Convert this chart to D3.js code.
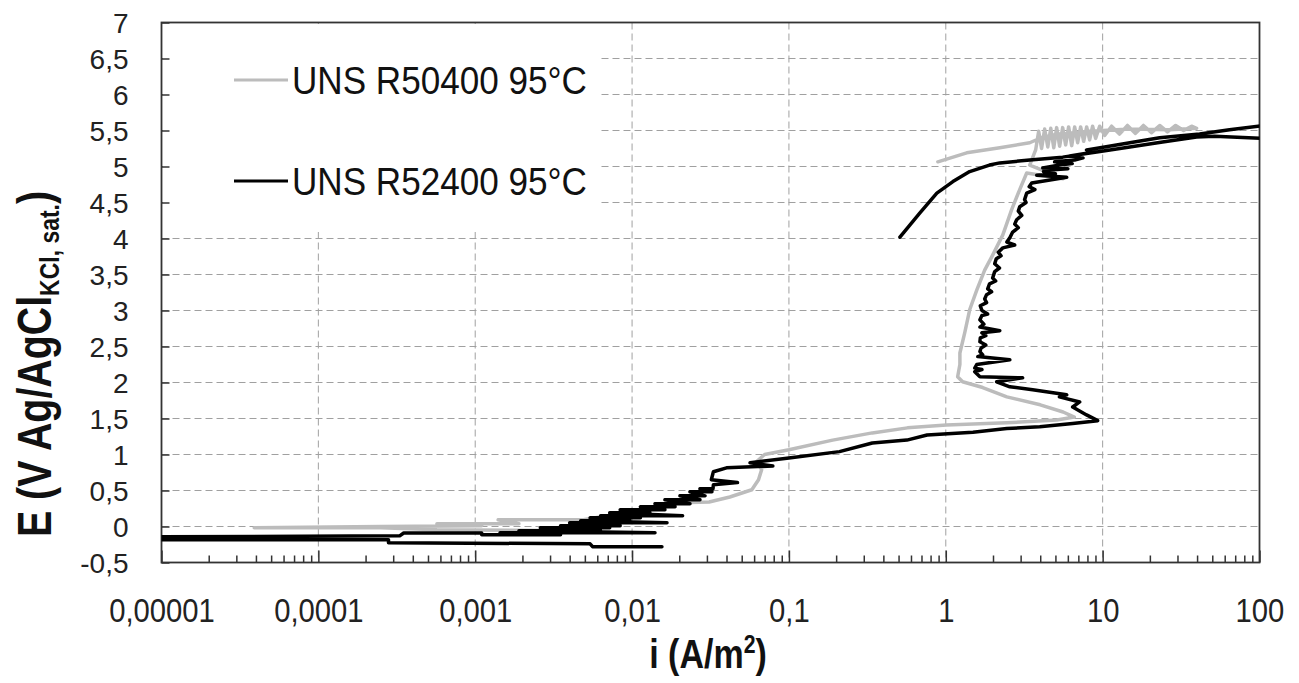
<!DOCTYPE html>
<html><head><meta charset="utf-8">
<script src="https://cdn.jsdelivr.net/npm/d3@7"></script>
<style>body{margin:0;background:#fff}</style>
</head><body><svg id="c" width="1299" height="683"></svg>
<script>
const seriesNames = ["UNS R50400 95°C", "UNS R52400 95°C"];
const xTickValues = [0.00001, 0.0001, 0.001, 0.01, 0.1, 1, 10, 100];
const xTickLabels = ["0,00001", "0,0001", "0,001", "0,01", "0,1", "1", "10", "100"];
const yTickValues = [-0.5, 0, 0.5, 1, 1.5, 2, 2.5, 3, 3.5, 4, 4.5, 5, 5.5, 6, 6.5, 7];
const yTickLabels = ["-0,5", "0", "0,5", "1", "1,5", "2", "2,5", "3", "3,5", "4", "4,5", "5", "5,5", "6", "6,5", "7"];

// UNS R50400 (grey): current density i (A/m2)
const r50400_i = [0.0063, 0.00057, 0.00025, 0.000039, 0.00025, 0.0011, 0.00057, 0.0019, 0.0014, 0.0049,
  0.0097, 0.020, 0.031, 0.042, 0.058, 0.064, 0.067, 0.062, 0.070, 0.10,
  0.19, 0.34, 0.57, 1.01, 2.45, 5.1, 6.6, 5.6, 4.0, 2.45,
  1.72, 1.28, 1.19, 1.23, 1.23, 1.32, 1.42, 1.58, 1.77, 1.99,
  2.31, 2.63, 2.96, 3.28, 5.6, 3.43,
  3.74, 3.91, 4.08, 4.27, 4.47, 4.67, 4.88, 5.09, 5.32, 5.56,
  5.81, 6.07, 6.35, 6.63, 6.93, 7.24, 7.57, 7.91, 8.26, 8.63,
  9.02, 9.57, 10.3, 11.4, 12.8, 14.4, 16.2, 18.2, 20.5, 23.1,
  25.9, 29.2, 32.8, 36.9, 39.7,
  26.7, 14.9, 8.26, 5.32, 4.15, 3.43, 2.21, 1.36, 0.89];
// UNS R50400 (grey): potential E (V)
const r50400_E = [-0.06, -0.046, -0.018, -0.018, 0.0, 0.01, 0.037, 0.037, 0.093, 0.093,
  0.20, 0.33, 0.34, 0.41, 0.51, 0.65, 0.79, 0.90, 1.0, 1.065,
  1.20, 1.30, 1.37, 1.41, 1.44, 1.48, 1.52, 1.59, 1.69, 1.80,
  1.93, 2.01, 2.08, 2.25, 2.41, 2.69, 3.01, 3.29, 3.56, 3.77,
  4.05, 4.40, 4.68, 4.91, 4.83, 5.02,
  5.23, 5.49, 5.25, 5.52, 5.27, 5.53, 5.26, 5.54, 5.28, 5.54,
  5.30, 5.55, 5.29, 5.55, 5.33, 5.55, 5.35, 5.55, 5.37, 5.56,
  5.39, 5.56, 5.43, 5.56, 5.45, 5.57, 5.46, 5.57, 5.47, 5.57,
  5.48, 5.57, 5.50, 5.56, 5.53,
  5.51, 5.52, 5.49, 5.45, 5.41, 5.33, 5.26, 5.19, 5.065];

// UNS R52400 (black): current density i (A/m2)
const r52400_i = [0.0155, 0.0056, 0.0054, 0.00028, 0.00028, 0.000009, 0.000009, 0.00033, 0.00035, 0.0011,
  0.0011, 0.0035, 0.00144, 0.014, 0.0019, 0.0063, 0.0026, 0.0072, 0.0035, 0.0084,
  0.0040, 0.0167, 0.0047, 0.0097, 0.0054, 0.0113, 0.0063, 0.021, 0.0072, 0.013,
  0.0084, 0.0162, 0.0113, 0.0188, 0.014, 0.0234, 0.0162, 0.0271, 0.0202, 0.0292,
  0.0234, 0.0323, 0.0271, 0.0328,
  0.033, 0.047, 0.032, 0.033, 0.040, 0.079, 0.0565,
  0.10, 0.21, 0.34, 0.565, 0.76, 1.49, 2.45, 3.97, 6.44, 9.3,
  7.9, 6.44, 7.14, 5.3, 5.9, 3.58, 2.56, 2.11, 3.09,
  1.65, 1.53, 1.70, 1.53, 1.575, 2.56, 1.60, 1.72, 1.65, 1.68,
  1.80, 1.65, 1.66, 1.80, 1.70, 2.21, 1.65, 1.75, 1.65, 1.70,
  1.85, 1.70, 1.66, 1.82, 1.77, 1.82, 1.96, 1.85, 1.90, 2.08,
  1.99, 2.05, 2.20, 2.05, 2.10, 2.25, 2.16, 2.31, 2.75, 2.45,
  2.56, 2.67, 2.9, 2.75, 2.83, 3.05, 2.9, 2.96, 3.25, 3.18,
  3.28, 3.7, 3.4, 3.53, 5.9,
  3.80, 5.0, 4.2, 4.59, 6.0, 4.15, 5.32, 6.4, 4.94, 6.63,
  7.5, 6.17, 8.26, 7.9, 10.3,
  14.9, 23.1, 41.5, 64.4, 108, 108, 51.7, 39.7, 24.1, 14.9,
  9.16, 5.56, 3.43, 2.21, 1.90, 1.42, 1.11, 0.877, 0.68, 0.51];
// UNS R52400 (black): potential E (V)
const r52400_E = [-0.28, -0.28, -0.24, -0.226, -0.185, -0.185, -0.143, -0.13, -0.09, -0.09,
  -0.115, -0.115, -0.0875, -0.0875, -0.06, -0.06, -0.018, -0.018, 0.01, 0.01,
  0.051, 0.051, 0.079, 0.079, 0.121, 0.121, 0.149, 0.149, 0.19, 0.19,
  0.232, 0.232, 0.274, 0.274, 0.315, 0.315, 0.371, 0.371, 0.426, 0.426,
  0.482, 0.482, 0.524, 0.524,
  0.58, 0.61, 0.65, 0.76, 0.815, 0.84, 0.885,
  0.95, 1.04, 1.16, 1.20, 1.27, 1.31, 1.36, 1.385, 1.43, 1.47,
  1.55, 1.66, 1.73, 1.80, 1.83, 1.90, 1.94, 2.01, 2.065,
  2.08, 2.15, 2.18, 2.20, 2.25, 2.315, 2.36, 2.385, 2.43, 2.48,
  2.52, 2.565, 2.62, 2.65, 2.69, 2.72, 2.77, 2.81, 2.87, 2.93,
  2.95, 3.0, 3.065, 3.11, 3.16, 3.22, 3.26, 3.30, 3.37, 3.41,
  3.45, 3.54, 3.59, 3.65, 3.72, 3.76, 3.81, 3.87, 3.91, 3.95,
  4.01, 4.09, 4.15, 4.20, 4.26, 4.32, 4.38, 4.44, 4.50, 4.54,
  4.63, 4.68, 4.72, 4.77, 4.85,
  4.88, 4.90, 4.93, 4.95, 4.97, 4.98, 5.02, 5.04, 5.065, 5.09,
  5.12, 5.145, 5.19, 5.23, 5.27,
  5.33, 5.40, 5.45, 5.51, 5.57, 5.39, 5.42, 5.41, 5.34, 5.27,
  5.20, 5.13, 5.09, 5.05, 5.02, 4.93, 4.79, 4.63, 4.35, 4.02];

const seriesColors = ["#bcbcbc", "#000000"];

const FONT = "'Liberation Sans', Arial, sans-serif";
const svg = d3.select("#c");
svg.append("rect").attr("width", 1299).attr("height", 683).attr("fill", "#fff");

const x = d3.scaleLog().domain([1e-5, 100]).range([161.5, 1259.5]);
const y = d3.scaleLinear().domain([-0.5, 7]).range([562.5, 22.5]);

// grid
const grid = svg.append("g").attr("stroke", "#a0a0a0").attr("stroke-width", 1).attr("stroke-dasharray", "7,4").attr("fill", "none");
grid.selectAll("line.h").data(yTickValues.filter(v => v > -0.5 && v < 7)).enter().append("line")
  .attr("x1", x(1e-5)).attr("x2", x(100)).attr("y1", d => y(d)).attr("y2", d => y(d));
grid.selectAll("line.v").data(xTickValues.filter(v => v > 1e-5 && v < 100)).enter().append("line")
  .attr("y1", y(7)).attr("y2", y(-0.5)).attr("x1", d => x(d)).attr("x2", d => x(d));

// legend background
svg.append("rect").attr("x", 163).attr("y", 24).attr("width", 437).attr("height", 208).attr("fill", "#fff");

// axes
const yAxis = d3.axisLeft(y).tickValues(yTickValues).tickSize(-8).tickPadding(33)
  .tickFormat((d, k) => yTickLabels[k]);
const gy = svg.append("g").attr("transform", `translate(${x(1e-5)},0)`).call(yAxis);
gy.select(".domain").remove();
gy.selectAll(".tick line").attr("stroke", "#333").attr("stroke-width", 1.5);
gy.selectAll(".tick text").attr("font-family", FONT).attr("font-size", 28).attr("fill", "#222").attr("dy", "0.36em");

const xAxis = d3.axisBottom(x).tickValues(xTickValues).tickSize(-12).tickPadding(35)
  .tickFormat((d, k) => xTickLabels[k]);
const gx = svg.append("g").attr("transform", `translate(0,${y(-0.5)})`).call(xAxis);
gx.select(".domain").remove();
gx.selectAll(".tick line").attr("stroke", "#333").attr("stroke-width", 1.5);
gx.selectAll(".tick text").attr("font-family", FONT).attr("font-size", 34).attr("fill", "#222")
  .attr("transform", "scale(0.86,1)");

// minor ticks
const minor = [];
for (let e = -5; e < 2; e++) for (let m = 2; m <= 9; m++) minor.push(m * Math.pow(10, e));
const xMinor = d3.axisBottom(x).tickValues(minor).tickSize(-7).tickFormat("");
const gxm = svg.append("g").attr("transform", `translate(0,${y(-0.5)})`).call(xMinor);
gxm.select(".domain").remove();
gxm.selectAll(".tick line").attr("stroke", "#333").attr("stroke-width", 1.5);

// frame
svg.append("rect").attr("x", x(1e-5)).attr("y", y(7)).attr("width", x(100) - x(1e-5)).attr("height", y(-0.5) - y(7))
  .attr("fill", "none").attr("stroke", "#333").attr("stroke-width", 1.8);

// curves
svg.append("clipPath").attr("id", "clip").append("rect")
  .attr("x", x(1e-5)).attr("y", y(7)).attr("width", x(100) - x(1e-5)).attr("height", y(-0.5) - y(7));
const line = d3.line().x(d => x(d[0])).y(d => y(d[1]));
const series = [
  d3.zip(r50400_i, r50400_E),
  d3.zip(r52400_i, r52400_E)
];
const cg = svg.append("g").attr("clip-path", "url(#clip)");
series.forEach((s, k) => {
  cg.append("path").datum(s).attr("d", line).attr("fill", "none")
    .attr("stroke", seriesColors[k]).attr("stroke-width", 3.5)
    .attr("stroke-linejoin", "round").attr("stroke-linecap", "round");
});

// legend
const legY = [80, 181];
seriesNames.forEach((n, k) => {
  svg.append("line").attr("x1", 234).attr("x2", 288).attr("y1", legY[k]).attr("y2", legY[k])
    .attr("stroke", seriesColors[k]).attr("stroke-width", 3);
  svg.append("text").attr("transform", `translate(292,${legY[k] + 14}) scale(0.9,1)`)
    .attr("font-family", FONT).attr("font-size", 39).attr("fill", "#111").text(n);
});

// axis titles
const xt = svg.append("text").attr("transform", "translate(708,668) scale(0.85,1)")
  .attr("text-anchor", "middle").attr("font-family", FONT).attr("font-weight", "bold")
  .attr("font-size", 40).attr("fill", "#111");
xt.append("tspan").text("i (A/m");
xt.append("tspan").attr("font-size", 25).attr("dy", -15).text("2");
xt.append("tspan").attr("dy", 15).text(")");

const yt = svg.append("text").attr("transform", "translate(51,364) rotate(-90) scale(0.82,1)")
  .attr("text-anchor", "middle").attr("font-family", FONT).attr("font-weight", "bold")
  .attr("font-size", 48).attr("fill", "#111");
yt.append("tspan").text("E (V Ag/AgCl");
yt.append("tspan").attr("font-size", 28).attr("dy", 8).text("KCl, sat.");
yt.append("tspan").attr("dy", -8).text(")");
</script>
</body></html>
